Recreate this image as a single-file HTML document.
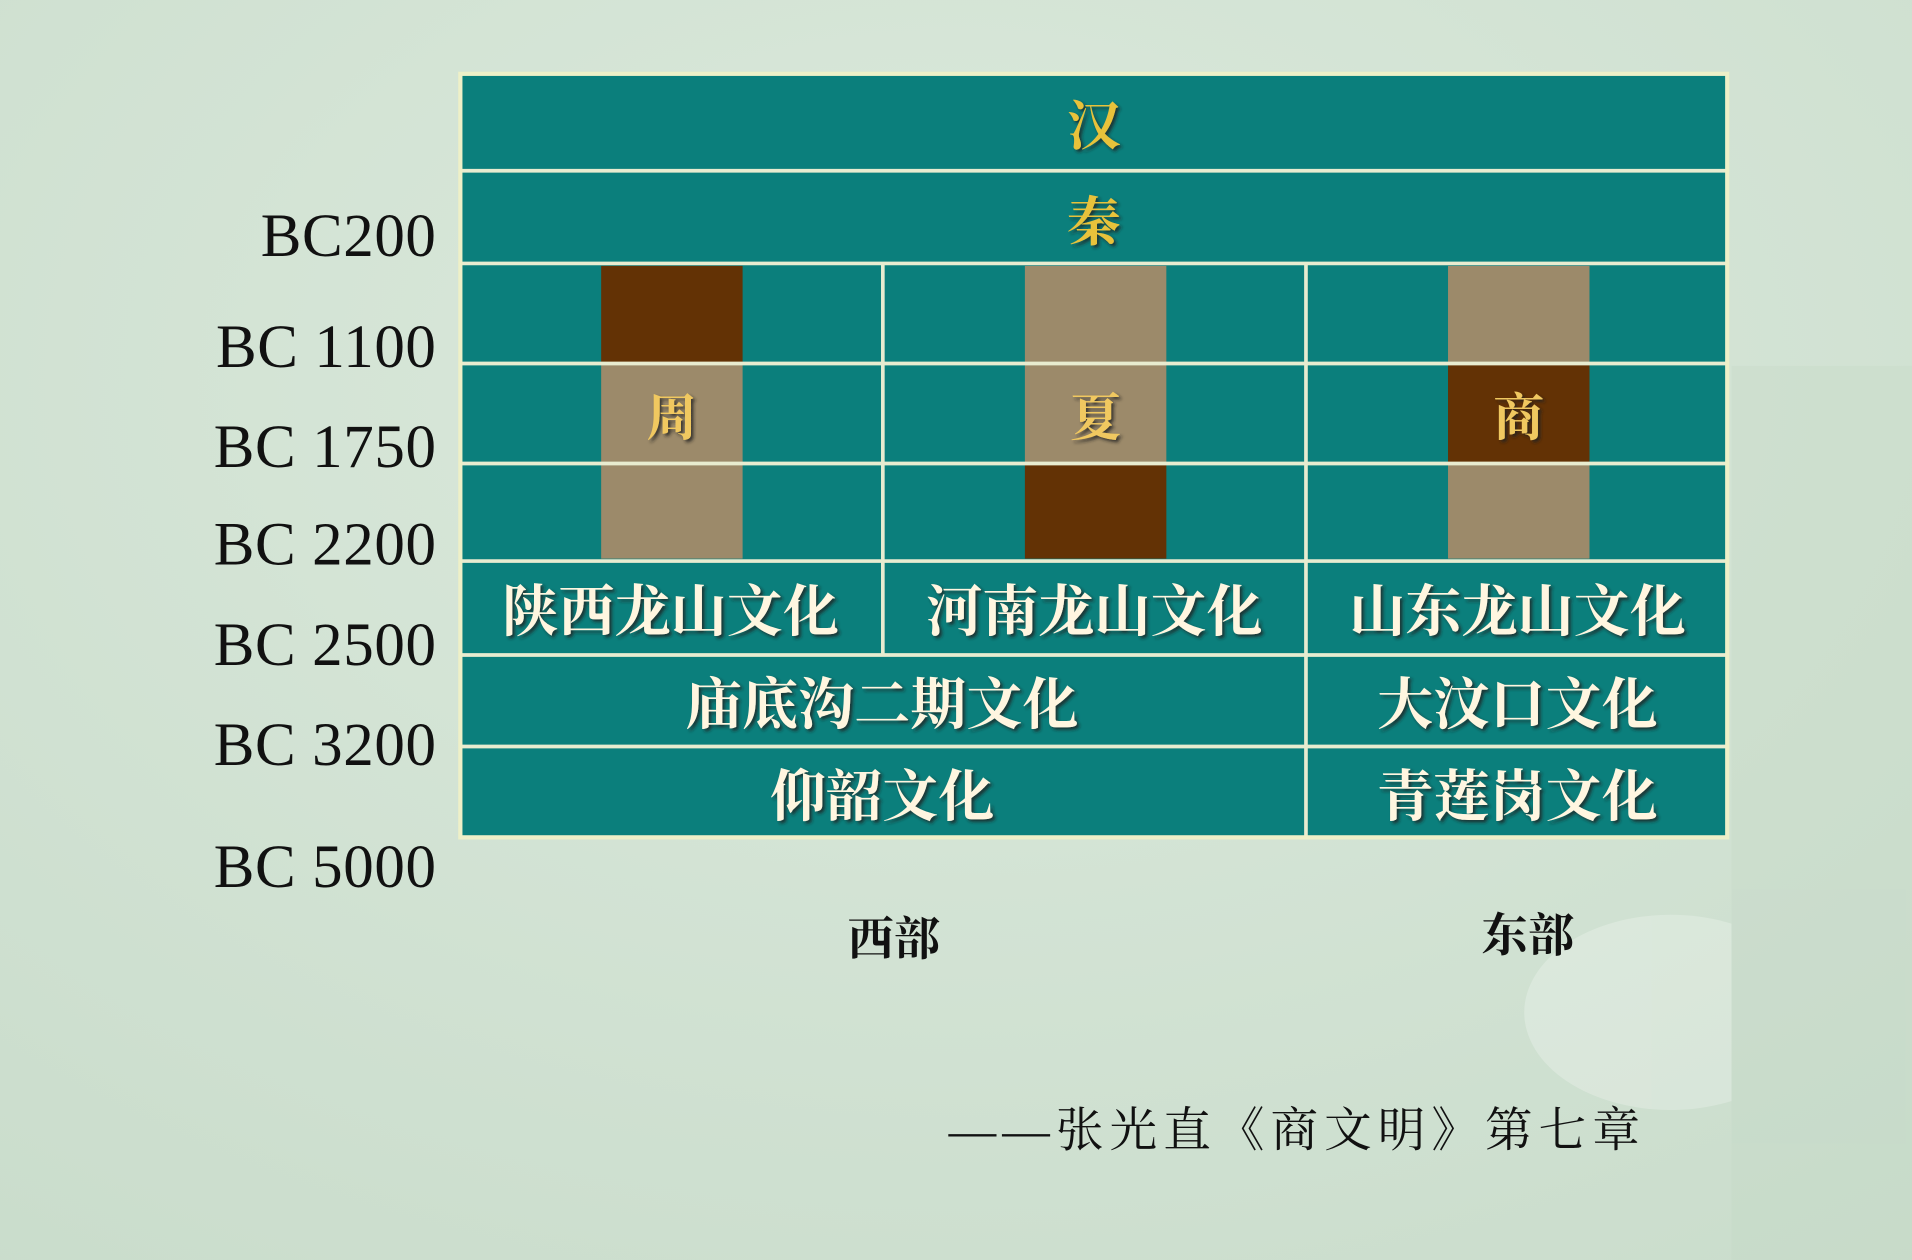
<!DOCTYPE html>
<html><head><meta charset="utf-8">
<style>
html,body{margin:0;padding:0;background:#d4e4d6;}
svg{display:block}
.zh{font-family:"Liberation Serif","Noto Serif CJK SC","Noto Sans CJK SC",serif;}
.lab{font-family:"Liberation Serif",serif;font-size:50px;fill:#111;letter-spacing:0.5px;}
</style></head>
<body>
<svg id="chart" width="1912" height="1260" viewBox="0 0 1568 1033" preserveAspectRatio="none" xmlns="http://www.w3.org/2000/svg">
<defs>
<radialGradient id="bg" cx="0.5" cy="0.3" r="0.9"><stop offset="0" stop-color="#dbe9dc"/><stop offset="1" stop-color="#c9dccb"/></radialGradient>
<filter id="sh"><feDropShadow dx="2" dy="2" stdDeviation="1.2" flood-color="#222" flood-opacity="0.8"/></filter>
</defs>
<rect width="1568" height="1033" fill="url(#bg)"/>
<g opacity="0.3">
<ellipse cx="1370" cy="830" rx="120" ry="80" fill="#f4f8f4"/>
<rect x="1420" y="300" width="148" height="733" fill="#c2d6c5"/>
</g>
<g id="table"></g>
<g id="ylabels"></g>
<text class="zh" x="733" y="783" text-anchor="middle" font-size="38" font-weight="bold" fill="#111">西部</text>
<text class="zh" x="1253" y="780" text-anchor="middle" font-size="38" font-weight="bold" fill="#111">东部</text>
<text class="zh" x="778" y="940" font-size="39" fill="#111" letter-spacing="5">——张光直《商文明》第七章</text>
</svg>
<script>
const yearLabels=["BC200","BC 1100","BC 1750","BC 2200","BC 2500","BC 3200","BC 5000"];
const yearLabelY=[193,284,366,446,528,610,710];
const rowEdges=[59,140,216,298,380,460,537,612,688];
const colEdges=[376,724,1071,1418];
const cells=[
 [0,0,3,"汉","#e8c23a"],[1,0,3,"秦","#e8c23a"],
 [5,0,1,"陕西龙山文化","#fff6e0"],[5,1,2,"河南龙山文化","#fff6e0"],[5,2,3,"山东龙山文化","#fff6e0"],
 [6,0,2,"庙底沟二期文化","#fff6e0"],[6,2,3,"大汶口文化","#fff6e0"],
 [7,0,2,"仰韶文化","#fff6e0"],[7,2,3,"青莲岗文化","#fff6e0"]
];
const barCols=[0,1,2];
const barShades=[[1,0,0],[0,0,1],[0,1,0]];
const barLabels=["周","夏","商"];
const NS="http://www.w3.org/2000/svg";
function mk(t,a,p){const e=document.createElementNS(NS,t);for(const k in a)e.setAttribute(k,a[k]);p.appendChild(e);return e;}
const T=document.getElementById('table');
const bg=mk('rect',{x:376,y:59,width:1042,height:629,fill:'#0b7f7c'},T);


barCols.forEach((c,i)=>{
  const cx=(colEdges[c]+colEdges[c+1])/2+1;
  barShades[i].forEach((s,j)=>{
    const r=mk('rect',{x:cx-58,y:rowEdges[2+j]+(j==0?2:0),width:116,height:rowEdges[3+j]-rowEdges[2+j]-(j==0?2:0)-(j==2?2:0),fill:s?'#633205':'#9c8a6a'},T);
    
    
  });
  const t=mk('text',{x:cx,y:rowEdges[3]+(rowEdges[4]-rowEdges[3])/2+18,'text-anchor':'middle','font-size':42,'font-weight':'bold',fill:'#f0c860',filter:'url(#sh)',class:'zh'},T);
  t.textContent=barLabels[i];
  
  
});
const L={stroke:'#e8ecd0','stroke-width':3};
rowEdges.slice(1,-1).forEach(y=>{mk('line',Object.assign({x1:376,x2:1418,y1:y,y2:y},L),T);});
[[1,216,537],[2,216,688]].forEach(([c,y1,y2])=>{mk('line',Object.assign({x1:colEdges[c],x2:colEdges[c],y1:y1,y2:y2},L),T);});
const border=mk('rect',{x:377.5,y:60.5,width:1039,height:626,fill:'none',stroke:'#eef0c8','stroke-width':3.5},T);


cells.forEach(([r,c0,c1,txt,col],i)=>{
  const cx=(colEdges[c0]+colEdges[c1])/2, cy=(rowEdges[r]+rowEdges[r+1])/2;
  const t=mk('text',{x:cx,y:cy+19,'text-anchor':'middle','font-size':r<2?44:46,'font-weight':'bold',fill:col,filter:'url(#sh)',class:'zh'},T);
  t.textContent=txt;
  
  
});
const Y=document.getElementById('ylabels');
yearLabels.forEach((s,i)=>{
  const t=mk('text',{x:358,y:yearLabelY[i]+17,'text-anchor':'end',class:'lab'},Y);
  t.textContent=s;
  
  
});
</script>
</body></html>
